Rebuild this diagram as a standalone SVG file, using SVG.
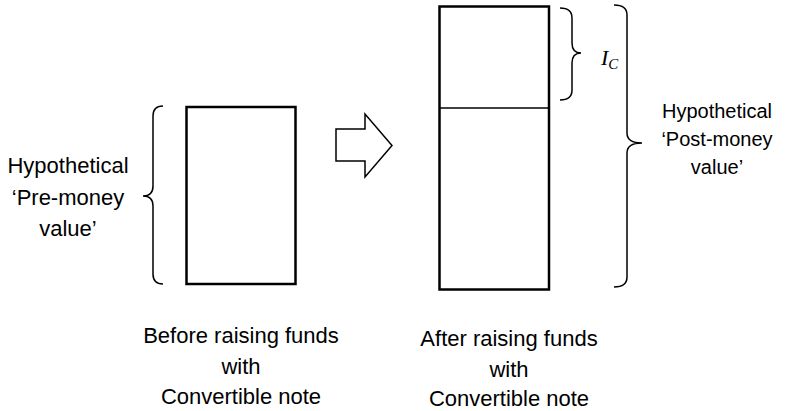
<svg xmlns="http://www.w3.org/2000/svg" width="787" height="411" viewBox="0 0 787 411">
<style>
.box{fill:#fff;stroke:#000;stroke-width:2.5}
.div{stroke:#000;stroke-width:1.5;fill:none}
.brace{fill:none;stroke:#000;stroke-width:1.5}
.arrow{fill:#fff;stroke:#000;stroke-width:1.5;stroke-linejoin:miter}
.t{font-family:"Liberation Sans",Arial,sans-serif;font-size:22px;fill:#000;text-anchor:middle}
.tr{font-family:"Liberation Sans",Arial,sans-serif;font-size:20px;fill:#000;text-anchor:middle}
.m{font-family:"Liberation Serif","Times New Roman",serif;font-style:italic;fill:#000}
</style>
<rect width="787" height="411" fill="#fff"/>
<g id="before-box">
<rect class="box" x="186.5" y="107" width="109" height="177"/>
</g>
<g id="after-box">
<rect class="box" x="439.5" y="6.5" width="109.5" height="283"/>
<line class="div" x1="440" y1="108" x2="549" y2="108"/>
</g>
<g id="connectors">
<path class="arrow" d="M336,129 L365,129 L365,114 L392,145.5 L365,177 L365,161 L336,161 Z"/>
</g>
<g id="pre-brace">
<path class="brace" d="M163,106 Q153,106 153,116 L153,186 Q153,196 143,196 Q153,196 153,206 L153,274 Q153,284 163,284"/>
</g>
<g id="ic-brace">
<path class="brace" d="M560,8 Q572,8 572,18 L572,43 Q572,53 581,53 Q572,53 572,63 L572,90 Q572,100 560,100"/>
</g>
<g id="post-brace">
<path class="brace" d="M614,5 Q627,5 627,15 L627,133 Q627,143 642,143 Q627,143 627,153 L627,277 Q627,287 614,287"/>
</g>
<g id="pre-label">
<text class="t" x="68" y="173">Hypothetical</text>
<text class="t" x="68" y="205">‘Pre-money</text>
<text class="t" x="68" y="236">value’</text>
</g>
<g id="post-label">
<text class="tr" x="717" y="118">Hypothetical</text>
<text class="tr" x="717" y="146">‘Post-money</text>
<text class="tr" x="717" y="174">value’</text>
</g>
<g id="ic-label">
<text class="m" x="601" y="65" font-size="22">I<tspan font-size="15" dy="4">C</tspan></text>
</g>
<g id="before-caption">
<text class="t" x="241" y="343">Before raising funds</text>
<text class="t" x="241" y="374">with</text>
<text class="t" x="241" y="404">Convertible note</text>
</g>
<g id="after-caption">
<text class="t" x="509" y="346">After raising funds</text>
<text class="t" x="509" y="377">with</text>
<text class="t" x="509" y="406">Convertible note</text>
</g>
</svg>
